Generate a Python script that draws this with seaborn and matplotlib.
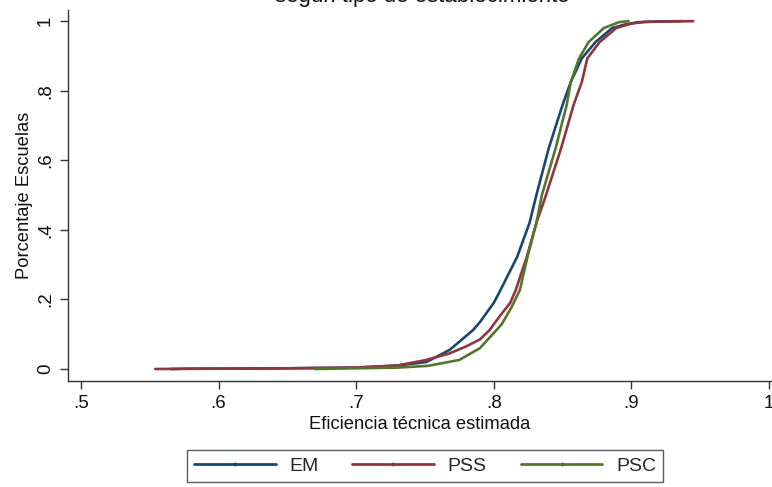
import matplotlib
matplotlib.use("Agg")
import matplotlib.pyplot as plt
import seaborn as sns
import pandas as pd
from matplotlib.lines import Line2D

# Data
em_x = [0.565, 0.58, 0.60, 0.65, 0.70, 0.73, 0.751, 0.768, 0.785, 0.79, 0.800, 0.804,
        0.817, 0.826, 0.831, 0.840, 0.850, 0.856, 0.864, 0.874, 0.886, 0.895, 0.905, 0.92, 0.937]
em_y = [0.0, 0.001, 0.001, 0.002, 0.004, 0.010, 0.020, 0.055, 0.112, 0.135, 0.190, 0.220,
        0.322, 0.42, 0.50, 0.635, 0.759, 0.825, 0.893, 0.94, 0.98, 0.99, 0.997, 0.999, 1.0]

pss_x = [0.554, 0.60, 0.65, 0.70, 0.73, 0.751, 0.768, 0.780, 0.790, 0.797, 0.804, 0.812, 0.816,
         0.824, 0.831, 0.838, 0.849, 0.858, 0.864, 0.868, 0.877, 0.889, 0.90, 0.91, 0.93, 0.945]
pss_y = [0.0, 0.001, 0.002, 0.004, 0.010, 0.026, 0.045, 0.065, 0.085, 0.112, 0.150, 0.190, 0.227,
         0.322, 0.42, 0.50, 0.635, 0.759, 0.825, 0.893, 0.94, 0.98, 0.993, 0.998, 0.999, 1.0]

psc_x = [0.67, 0.70, 0.73, 0.752, 0.775, 0.790, 0.802, 0.806, 0.813, 0.819, 0.8245, 0.831,
         0.835, 0.845, 0.853, 0.856, 0.862, 0.869, 0.880, 0.891, 0.898]
psc_y = [0.0, 0.002, 0.004, 0.009, 0.026, 0.060, 0.112, 0.130, 0.178, 0.227, 0.322, 0.42,
         0.50, 0.635, 0.759, 0.825, 0.893, 0.94, 0.98, 0.997, 1.0]

groups = ["EM", "PSS", "PSC"]
colors = ["#1a476f", "#90353b", "#55752f"]

xticks = [0.5, 0.6, 0.7, 0.8, 0.9, 1.0]
xticklabels = [".5", ".6", ".7", ".8", ".9", "1"]
yticks = [0, 0.2, 0.4, 0.6, 0.8, 1.0]
yticklabels = ["0", ".2", ".4", ".6", ".8", "1"]

df = pd.concat([
    pd.DataFrame({"x": em_x, "y": em_y, "g": "EM"}),
    pd.DataFrame({"x": pss_x, "y": pss_y, "g": "PSS"}),
    pd.DataFrame({"x": psc_x, "y": psc_y, "g": "PSC"}),
], ignore_index=True)

sns.set_theme(style="white")
plt.rcParams["font.family"] = ["Liberation Sans", "DejaVu Sans"]

W, H = 772, 487
fig = plt.figure(figsize=(W / 100, H / 100), dpi=100)
ax = fig.add_axes([68 / W, 1 - 381 / H, (771 - 68) / W, (381 - 10) / H])

sns.lineplot(data=df, x="x", y="y", hue="g", hue_order=groups,
             palette=dict(zip(groups, colors)), sort=False, estimator=None,
             linewidth=1.9, legend=False, ax=ax)

ax.set_xlim(0.4906, 1.0015)
ax.set_ylim(-0.0345, 1.032)
ax.set_xticks(xticks)
ax.set_xticklabels(xticklabels)
ax.set_yticks(yticks)
ax.set_yticklabels(yticklabels, rotation=90, va="center")
for s in ["top", "right"]:
    ax.spines[s].set_visible(False)
for s in ["left", "bottom"]:
    ax.spines[s].set_color("#333333")
    ax.spines[s].set_linewidth(1.0)
ax.tick_params(axis="both", direction="out", length=6, width=1, color="#333333",
               labelsize=13.5, labelcolor="#111111", bottom=True, left=True, pad=4)
ax.set_xlabel("Eficiencia técnica estimada", fontsize=13.2, color="#111111", labelpad=3)
ax.set_ylabel("Porcentaje Escuelas", fontsize=13.2, color="#111111", labelpad=3)

fig.text(422 / W, 1 - 2.3 / H, "según tipo de establecimiento", ha="center",
         va="baseline", fontsize=16, color="#111111")

handles = [Line2D([0], [0], color=c, lw=2, marker="o", markersize=1.8) for c in colors]
leg = fig.legend(handles, groups, loc="center", bbox_to_anchor=(425 / W, 1 - 466 / H),
                 ncol=3, fontsize=14, frameon=True, fancybox=False, handlelength=4.2,
                 columnspacing=1.75, handletextpad=0.7, borderpad=0.35, borderaxespad=0)
leg.get_frame().set_edgecolor("#333333")
leg.get_frame().set_linewidth(1.0)

fig.savefig("out.png", dpi=100)
